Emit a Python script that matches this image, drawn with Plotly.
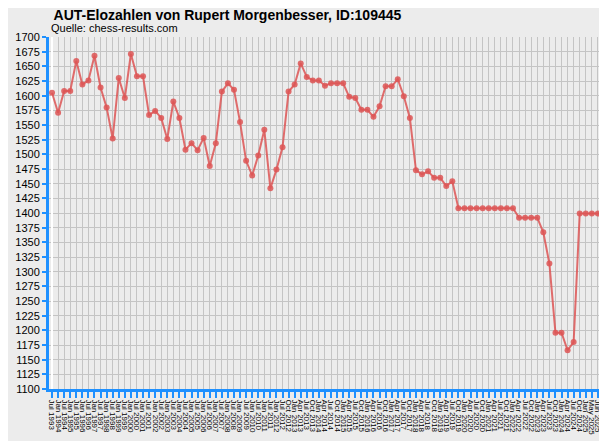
import plotly.graph_objects as go

elo = [1605,1571,1608,1608,1659,1619,1626,1668,1614,1580,1527,1630,1596,1671,1633,1633,
       1567,1574,1562,1526,1590,1562,1508,1519,1507,1528,1480,1519,1607,1621,1610,1555,
       1489,1464,1498,1542,1442,1474,1512,1607,1619,1655,1632,1626,1626,1617,1621,1621,
       1621,1598,1596,1576,1576,1564,1582,1616,1616,1628,1599,1562,1473,1466,1471,1460,
       1460,1446,1454,1408,1408,1408,1408,1408,1408,1408,1408,1408,1408,1392,1392,1392,
       1392,1367,1314,1196,1196,1166,1180,1399,1399,1399,1399,1399]

months = ["Jan","Feb","Mar","Apr","May","Jun","Jul","Aug","Sep","Oct","Nov","Dec"]
labels = []
for i in range(39):
    y = 1993 + (i + 1) // 2
    labels.append(("Jul " if i % 2 == 0 else "Jan ") + str(y))
for i in range(50):
    m = 9 + 3 * i
    labels.append(f"{months[m % 12]} {2012 + m // 12}")
labels += ["May 2025", "Jun 2025", "Jul 2025"]

fig = go.Figure(go.Scatter(
    x=list(range(len(elo))), y=elo, mode="lines+markers",
    line=dict(color="rgba(221,85,85,0.85)", width=2),
    marker=dict(size=6, color="rgba(221,85,85,0.85)", symbol="circle"),
))
fig.update_layout(
    width=607, height=441, margin=dict(l=40, r=7, t=29, b=60),
    paper_bgcolor="#ececec", plot_bgcolor="#ececec",
    font=dict(family="Liberation Sans, Arial", size=11, color="#000"),
    showlegend=False,
    title=dict(text="<b>AUT-Elozahlen von Rupert Morgenbesser, ID:109445</b>",
               x=0.075, xanchor="left", y=0.995, yanchor="top", font=dict(size=14)),
    annotations=[dict(text="Quelle: chess-results.com", xref="paper", yref="paper",
                      x=0.0, y=1.0, xanchor="left", yanchor="bottom", yshift=1,
                      showarrow=False, font=dict(size=11))],
)
fig.update_xaxes(
    tickmode="array", tickvals=list(range(len(elo))), ticktext=labels,
    tickangle=90, tickfont=dict(size=8),
    range=[-0.5, len(elo) - 0.5],
    showgrid=True, gridcolor="#c4c4c4", gridwidth=1,
    showline=True, linecolor="#1e90ff", linewidth=3,
    ticks="outside", tickcolor="#1e90ff", ticklen=6, tickwidth=2,
)
fig.update_yaxes(
    range=[1100, 1700], dtick=25, tickformat="d",
    showgrid=True, gridcolor="#c4c4c4", gridwidth=1,
    showline=True, linecolor="#1e90ff", linewidth=3,
    ticks="outside", tickcolor="#1e90ff", ticklen=4, tickwidth=2,
    zeroline=False,
)
fig.write_html("out.html")
